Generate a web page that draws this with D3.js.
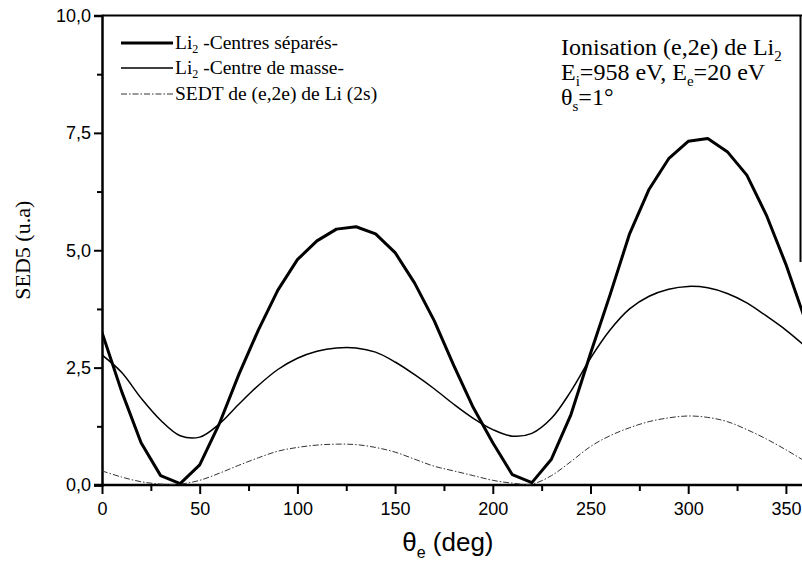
<!DOCTYPE html>
<html><head><meta charset="utf-8">
<script src="https://cdn.jsdelivr.net/npm/d3@7"></script>
<style>body{margin:0;background:#fff}svg{display:block}</style>
</head><body>
<svg id="c" width="802" height="562"></svg>
<script>
const angles = [0,10,20,30,40,50,60,70,80,90,100,110,120,130,140,150,160,170,180,190,200,210,220,230,240,250,260,270,280,290,300,310,320,330,340,350,360];
const centresSepares = [3.25,2.0,0.9,0.2,0.03,0.43,1.3,2.35,3.3,4.15,4.8,5.2,5.45,5.5,5.35,4.95,4.3,3.5,2.55,1.65,0.9,0.22,0.05,0.55,1.5,2.8,4.05,5.35,6.3,6.95,7.32,7.38,7.1,6.6,5.75,4.7,3.5];
const centreDeMasse = [2.77,2.4,1.85,1.38,1.05,1.02,1.3,1.72,2.12,2.46,2.7,2.85,2.92,2.92,2.83,2.62,2.35,2.05,1.72,1.42,1.18,1.04,1.1,1.42,2.0,2.7,3.3,3.75,4.02,4.17,4.23,4.2,4.08,3.88,3.6,3.3,2.95];
const sedtLi2s = [0.3,0.17,0.07,0.02,0.02,0.1,0.25,0.42,0.58,0.72,0.8,0.85,0.87,0.86,0.8,0.7,0.55,0.4,0.3,0.2,0.1,0.04,0.02,0.2,0.5,0.82,1.05,1.22,1.35,1.43,1.47,1.44,1.35,1.18,0.98,0.75,0.5];
const xTickValues = [0,50,100,150,200,250,300,350];
const xMinorTicks = [25,75,125,175,225,275,325];
const yTickValues = [0,2.5,5,7.5,10];
const yMinorTicks = [1.25,3.75,6.25,8.75];
const legendLabels = ["Li|2| -Centres séparés-","Li|2| -Centre de masse-","SEDT de (e,2e) de Li (2s)"];

const svg = d3.select("#c");
const L = 102, T = 15.5, B = 485;
const x = d3.scaleLinear().domain([0,360]).range([L, L + 360*1.954]);
const y = d3.scaleLinear().domain([0,10]).range([B, T]);
const sans = "'Liberation Sans', Arial, sans-serif";
const serif = "'Liberation Serif', 'Times New Roman', serif";

// frame top and partial right
svg.append("line").attr("x1",L).attr("x2",802).attr("y1",T).attr("y2",T).attr("stroke","#000").attr("stroke-width",2);
svg.append("line").attr("x1",800.5).attr("x2",800.5).attr("y1",T).attr("y2",262).attr("stroke","#000").attr("stroke-width",2);

// y axis
const yAxis = d3.axisLeft(y).tickValues(yTickValues).tickSize(8).tickFormat(d => d3.format(".1f")(d).replace(".",","));
const gy = svg.append("g").attr("transform",`translate(${L},0)`).call(yAxis);
gy.select(".domain").attr("stroke-width",2.5);
gy.selectAll(".tick line").attr("stroke-width",2);
gy.selectAll(".tick text").attr("font-family",sans).attr("font-size",18).attr("x",-11).attr("fill","#000");
const gym = svg.append("g").attr("transform",`translate(${L},0)`).call(d3.axisLeft(y).tickValues(yMinorTicks).tickSize(5).tickFormat(""));
gym.select(".domain").remove();
gym.selectAll(".tick line").attr("stroke-width",2);

// x axis
const xAxis = d3.axisBottom(x).tickValues(xTickValues).tickSize(9).tickFormat(d3.format("d"));
const gx = svg.append("g").attr("transform",`translate(0,${B})`).call(xAxis);
gx.select(".domain").attr("stroke-width",2.5).attr("d",`M${L-8},0H802`);
gx.selectAll(".tick line").attr("stroke-width",2);
gx.selectAll(".tick text").attr("font-family",sans).attr("font-size",18).attr("y",17).attr("fill","#000");
const gxm = svg.append("g").attr("transform",`translate(0,${B})`).call(d3.axisBottom(x).tickValues(xMinorTicks).tickSize(6).tickFormat(""));
gxm.select(".domain").remove();
gxm.selectAll(".tick line").attr("stroke-width",2);

// axis titles
svg.append("text").attr("transform",`translate(30,${(T+B)/2}) rotate(-90)`).attr("text-anchor","middle")
  .attr("font-family",serif).attr("font-size",22).text("SED5 (u.a)");
const xt = svg.append("text").attr("x",x(177)).attr("y",551).attr("text-anchor","middle").attr("font-family",sans).attr("font-size",26);
xt.append("tspan").text("θ");
xt.append("tspan").attr("font-size",16).attr("dy",7).text("e");
xt.append("tspan").attr("dy",-7).text(" (deg)");

// curves
svg.append("clipPath").attr("id","pc").append("rect").attr("x",L).attr("y",T).attr("width",x(360)-L).attr("height",B-T);
function series(vals){ return angles.map((a,i)=>[a,vals[i]]); }
const lineLin = d3.line().x(d=>x(d[0])).y(d=>y(d[1]));
const lineSmooth = d3.line().x(d=>x(d[0])).y(d=>y(d[1])).curve(d3.curveCatmullRom.alpha(0.5));
const g = svg.append("g").attr("clip-path","url(#pc)");
g.append("path").attr("d",lineSmooth(series(sedtLi2s))).attr("fill","none").attr("stroke","#333").attr("stroke-width",1).attr("stroke-dasharray","6,2,1.5,2");
g.append("path").attr("d",lineSmooth(series(centreDeMasse))).attr("fill","none").attr("stroke","#000").attr("stroke-width",1.5);
g.append("path").attr("d",lineLin(series(centresSepares))).attr("fill","none").attr("stroke","#000").attr("stroke-width",3).attr("stroke-linejoin","round");

// legend
const styles = [{w:3,dash:null,c:"#000"},{w:1.5,dash:null,c:"#000"},{w:1,dash:"6,2,1.5,2",c:"#333"}];
const ly = [43,68,94];
legendLabels.forEach((lab,i)=>{
  svg.append("line").attr("x1",121).attr("x2",173).attr("y1",ly[i]).attr("y2",ly[i]).attr("stroke",styles[i].c).attr("stroke-width",styles[i].w).attr("stroke-dasharray",styles[i].dash);
  const t = svg.append("text").attr("x",175).attr("y",ly[i]+6).attr("font-family",serif).attr("font-size",19.5);
  const parts = lab.split("|");
  if(parts.length===3){
    t.append("tspan").text(parts[0]);
    t.append("tspan").attr("font-size",12).attr("dy",4).text(parts[1]);
    t.append("tspan").attr("dy",-4).text(parts[2]);
  } else t.text(lab);
});

// annotation
const ax = 561;
const a1 = svg.append("text").attr("x",ax).attr("y",55).attr("font-family",serif).attr("font-size",24);
a1.append("tspan").text("Ionisation (e,2e) de Li");
a1.append("tspan").attr("font-size",15).attr("dy",6).text("2");
const a2 = svg.append("text").attr("x",ax).attr("y",80).attr("font-family",serif).attr("font-size",24);
a2.append("tspan").text("E");
a2.append("tspan").attr("font-size",15).attr("dy",6).text("i");
a2.append("tspan").attr("dy",-6).text("=958 eV, E");
a2.append("tspan").attr("font-size",15).attr("dy",6).text("e");
a2.append("tspan").attr("dy",-6).text("=20 eV");
const a3 = svg.append("text").attr("x",ax).attr("y",105).attr("font-family",serif).attr("font-size",24);
a3.append("tspan").text("θ");
a3.append("tspan").attr("font-size",15).attr("dy",6).text("s");
a3.append("tspan").attr("dy",-6).text("=1°");
</script>
</body></html>
